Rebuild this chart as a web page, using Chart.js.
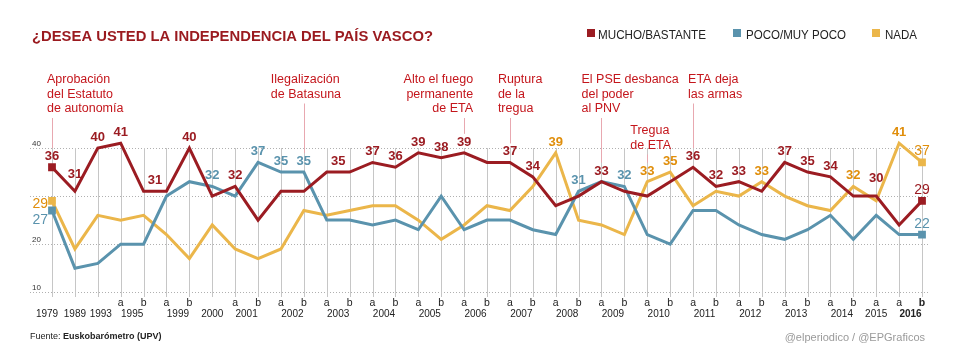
<!DOCTYPE html>
<html>
<head>
<meta charset="utf-8">
<script src="https://cdn.jsdelivr.net/npm/chart.js@4/dist/chart.umd.min.js"></script>
<style>
  html, body { margin: 0; padding: 0; background: #fff; }
  #wrap { width: 965px; height: 362px; position: relative; }
</style>
</head>
<body>
<div id="wrap"><canvas id="chart"></canvas></div>
<script>
const periods = ["1979","1989","1993","1995a","1995b","1999a","1999b","2000","2001a","2001b","2002a","2002b",
  "2003a","2003b","2004a","2004b","2005a","2005b","2006a","2006b","2007a","2007b","2008a","2008b",
  "2009a","2009b","2010a","2010b","2011a","2011b","2012a","2012b","2013a","2013b","2014a","2014b",
  "2015a","2016a","2016b"];

const mucho = [36,31,40,41,31,31,40,30,32,25,31,31,35,35,37,36,39,38,39,37,37,34,28,30,33,31,30,33,36,32,33,31,37,35,34,30,30,24,29];
const poco  = [27,15,16,20,20,30,33,32,30,37,35,35,25,25,24,25,23,30,23,25,25,23,22,31,33,32,22,20,27,27,24,22,21,23,26,21,26,22,22];
const nada  = [29,19,26,25,26,22,17,24,19,17,19,27,26,27,28,28,25,21,24,28,27,32,39,25,24,22,33,35,28,31,30,33,30,28,27,32,29,41,37];

// which points carry a number
const muchoLabels = [0,1,2,3,4,6,8,12,14,15,16,17,18,20,21,24,28,29,30,32,33,34,36,38];
const pocoLabels  = [0,7,9,10,11,23,25,38];
const nadaLabels  = [0,22,26,27,31,35,37,38];

const yGrid = [10, 20, 30, 40];
const yTickLabels = [10, 20, 40];

const RED = "#9b1c22", BLUE = "#5a93ad", YELLOW = "#ebb64a";
const RED_TXT = "#9b1c22", BLUE_TXT = "#5a93ad", YELLOW_TXT = "#e08e0b";
const ANNOT = "#c4161c", ANNOT_LINE = "#e8a8b0";
const FONT = "'Liberation Sans', Arial, Helvetica, sans-serif";

// labels lifted higher where the line would cross them
const liftedRed = { 1: 6, 36: 7 };
const yearNudge = { "1979": -5, "1993": 3 };

const annotations = [
  { i: 0,  lines: ["Aprobación", "del Estatuto", "de autonomía"], dx: -5, align: "left", y: 83 },
  { i: 11, lines: ["Ilegalización", "de Batasuna"], dx: -33, align: "left", y: 83 },
  { i: 18, lines: ["Alto el fuego", "permanente", "de ETA"], dx: 9, align: "right", y: 83 },
  { i: 20, lines: ["Ruptura", "de la", "tregua"], dx: -12, align: "left", y: 83 },
  { i: 24, lines: ["El PSE desbanca", "del poder", "al PNV"], dx: -20, align: "left", y: 83 },
  { i: 28, lines: ["ETA deja", "las armas"], dx: -5, align: "left", y: 83 },
  { i: 26, lines: ["Tregua", "de ETA"], dx: -17, align: "left", y: 134 }
];

function fitText(ctx, text, x, y, width) {
  const w = ctx.measureText(text).width;
  const s = Math.min(1, width / w);
  ctx.save();
  ctx.translate(x, y);
  ctx.scale(s, 1);
  ctx.fillText(text, 0, 0);
  ctx.restore();
}

const overlay = {
  id: "overlay",
  beforeDatasetsDraw(chart) {
    const { ctx, chartArea: a, scales: { x, y } } = chart;
    ctx.save();
    // dotted horizontal grid
    ctx.strokeStyle = "#b0b0b0";
    ctx.lineWidth = 1;
    ctx.setLineDash([1, 2]);
    yGrid.forEach(v => {
      const py = Math.round(y.getPixelForValue(v)) + 0.5;
      ctx.beginPath(); ctx.moveTo(30, py); ctx.lineTo(928, py); ctx.stroke();
    });
    ctx.setLineDash([]);
    // vertical grid
    ctx.strokeStyle = "#c6c6c6";
    const top40 = y.getPixelForValue(40);
    periods.forEach((p, i) => {
      const px = Math.round(x.getPixelForValue(i)) + 0.5;
      ctx.beginPath(); ctx.moveTo(px, top40); ctx.lineTo(px, a.bottom); ctx.stroke();
    });
    // y tick labels
    ctx.fillStyle = "#333";
    ctx.font = "8px " + FONT;
    ctx.textAlign = "left";
    ctx.textBaseline = "alphabetic";
    yTickLabels.forEach(v => ctx.fillText(String(v), 32, y.getPixelForValue(v) - 2));

    // annotation lines
    ctx.strokeStyle = ANNOT_LINE;
    annotations.forEach(an => {
      const px = Math.round(x.getPixelForValue(an.i)) + 0.5;
      const top = an.y + (an.lines.length - 1) * 14.5 + 6;
      const hi = Math.max(mucho[an.i], poco[an.i], nada[an.i]);
      const bottom = y.getPixelForValue(hi) - 19;
      ctx.beginPath(); ctx.moveTo(px, top); ctx.lineTo(px, bottom); ctx.stroke();
    });
    ctx.restore();
  },
  afterDatasetsDraw(chart) {
    const { ctx, scales: { x, y } } = chart;
    const last = periods.length - 1;
    ctx.save();
    ctx.textBaseline = "alphabetic";

    const drawSeries = (values, idx, color, lift) => {
      ctx.fillStyle = color;
      idx.forEach(i => {
        let px = x.getPixelForValue(i);
        const py = y.getPixelForValue(values[i]);
        if (i < last && values[i + 1] === values[i] && !idx.includes(i + 1)) {
          px = (px + x.getPixelForValue(i + 1)) / 2;
        }
        const extra = (lift && lift[i]) || 0;
        if (i === 0 && values !== mucho) {
          ctx.font = "14px " + FONT;
          ctx.textAlign = "right";
          const dy = values === poco ? 13 : 7;
          ctx.fillText(String(values[i]), px - 4, py + dy);
        } else if (i === last) {
          ctx.font = "14px " + FONT;
          ctx.textAlign = "center";
          ctx.fillText(String(values[i]), px, py - 7);
        } else {
          ctx.font = "bold 13px " + FONT;
          ctx.textAlign = "center";
          ctx.fillText(String(values[i]), px, py - 7 - extra);
        }
      });
    };
    drawSeries(nada, nadaLabels, YELLOW_TXT);
    drawSeries(poco, pocoLabels, BLUE_TXT);
    drawSeries(mucho, muchoLabels, RED_TXT, liftedRed);

    // x labels
    ctx.fillStyle = "#222";
    ctx.textAlign = "center";
    const groups = {};
    periods.forEach((p, i) => {
      const half = p.slice(4), yr = p.slice(0, 4);
      const px = x.getPixelForValue(i);
      if (half) {
        ctx.font = (i === last ? "bold " : "") + "10.5px " + FONT;
        ctx.fillText(half, px, 306);
      }
      (groups[yr] = groups[yr] || []).push(px);
    });
    Object.keys(groups).forEach(yr => {
      const xs = groups[yr];
      const cx = xs.reduce((s, v) => s + v, 0) / xs.length + (yearNudge[yr] || 0);
      ctx.font = (yr === "2016" ? "bold " : "") + "10px " + FONT;
      ctx.fillText(yr, cx, 317);
    });

    // annotation texts
    ctx.fillStyle = ANNOT;
    ctx.font = "12.5px " + FONT;
    annotations.forEach(an => {
      const px = x.getPixelForValue(an.i) + an.dx;
      ctx.textAlign = an.align;
      an.lines.forEach((t, k) => ctx.fillText(t, px, an.y + k * 14.5));
    });

    // title
    ctx.textAlign = "left";
    ctx.fillStyle = "#9a1a1f";
    ctx.font = "bold 15.5px " + FONT;
    fitText(ctx, "¿DESEA USTED LA INDEPENDENCIA DEL PAÍS VASCO?", 32, 41, 401);

    // legend
    const legend = [
      { name: "MUCHO/BASTANTE", color: RED, sx: 587, tx: 598, w: 108 },
      { name: "POCO/MUY POCO", color: BLUE, sx: 733, tx: 746, w: 100 },
      { name: "NADA", color: YELLOW, sx: 872, tx: 885, w: 32 }
    ];
    ctx.font = "12.5px " + FONT;
    legend.forEach(l => {
      ctx.fillStyle = l.color;
      ctx.fillRect(l.sx, 29, 8, 8);
      ctx.fillStyle = "#222";
      fitText(ctx, l.name, l.tx, 39, l.w);
    });

    // footer
    ctx.fillStyle = "#222";
    ctx.font = "9px " + FONT;
    ctx.fillText("Fuente: ", 30, 339);
    const fw = ctx.measureText("Fuente: ").width;
    ctx.font = "bold 9px " + FONT;
    ctx.fillText("Euskobarómetro (UPV)", 30 + fw, 339);
    ctx.fillStyle = "#9a9a9a";
    ctx.font = "11px " + FONT;
    ctx.textAlign = "right";
    ctx.fillText("@elperiodico / @EPGraficos", 925, 341);
    ctx.restore();
  }
};

const lastIdx = periods.length - 1;
const endPoint = c => (c.dataIndex === 0 || c.dataIndex === lastIdx) ? 5.5 : 0;

new Chart(document.getElementById("chart"), {
  type: "line",
  data: {
    labels: periods,
    datasets: [
      { label: "MUCHO/BASTANTE", data: mucho, borderColor: RED, backgroundColor: RED },
      { label: "POCO/MUY POCO", data: poco, borderColor: BLUE, backgroundColor: BLUE },
      { label: "NADA", data: nada, borderColor: YELLOW, backgroundColor: YELLOW }
    ]
  },
  options: {
    responsive: true,
    maintainAspectRatio: false,
    animation: false,
    layout: { padding: { left: 52, right: 43, top: 124, bottom: 65 } },
    elements: {
      line: { borderWidth: 3, tension: 0, borderJoinStyle: "miter" },
      point: { pointStyle: "rect", radius: endPoint, hoverRadius: endPoint, borderWidth: 0 }
    },
    scales: {
      x: { display: false, offset: false },
      y: { display: false, min: 9, max: 45 }
    },
    plugins: { legend: { display: false }, tooltip: { enabled: false } }
  },
  plugins: [overlay]
});
</script>
</body>
</html>
